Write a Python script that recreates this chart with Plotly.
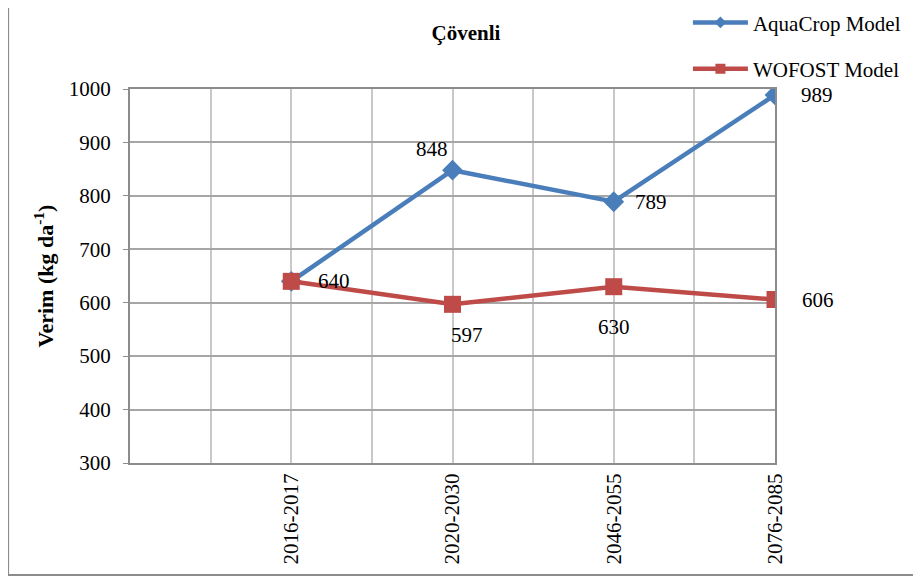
import plotly.graph_objects as go

# veriler
periods = ["2016-2017", "2020-2030", "2046-2055", "2076-2085"]
aquacrop = [640, 848, 789, 989]
wofost = [640, 597, 630, 606]

# etiket kaydirmalari (px) - ilk AquaCrop etiketi gizli
aqua_shift = [None, (-21, 21), (37, 0), (42, 0)]
wofost_shift = [(43, 0), (14, -31), (0, -40), (43, 0)]

xs = list(range(len(periods)))
serif = "Liberation Serif, Times New Roman, serif"
blue, red = "#4a7ebb", "#be4b48"

fig = go.Figure()
fig.add_trace(go.Scatter(x=xs, y=aquacrop, name="AquaCrop Model", mode="lines+markers",
                         line=dict(color=blue, width=4.5),
                         marker=dict(symbol="diamond", size=16, color=blue),
                         showlegend=False))
fig.add_trace(go.Scatter(x=xs, y=wofost, name="WOFOST Model", mode="lines+markers",
                         line=dict(color=red, width=4.5),
                         marker=dict(symbol="square", size=17, color=red),
                         showlegend=False))
# legend icin kucuk isaretli kopyalar
fig.add_trace(go.Scatter(x=[None], y=[None], name="AquaCrop Model", mode="lines+markers",
                         line=dict(color=blue, width=4.5),
                         marker=dict(symbol="diamond", size=9, color=blue), legendgroup="a"))
fig.add_trace(go.Scatter(x=[None], y=[None], name="WOFOST Model", mode="lines+markers",
                         line=dict(color=red, width=4.5),
                         marker=dict(symbol="square", size=10, color=red), legendgroup="w"))

for vals, shifts in [(aquacrop, aqua_shift), (wofost, wofost_shift)]:
    for i, v in enumerate(vals):
        if shifts[i] is None:
            continue
        fig.add_annotation(x=xs[i], y=v, text=str(v), showarrow=False,
                           xshift=shifts[i][0], yshift=shifts[i][1],
                           font=dict(family=serif, size=21, color="black"))

# dis cerceve
fig.add_shape(type="rect", xref="paper", yref="paper", x0=-0.189, x1=1.25, y0=-0.2995, y1=1.235,
              line=dict(color="#8c8c8c", width=2), layer="below")

fig.update_layout(
    width=913, height=571,
    margin=dict(l=122, r=146, t=81, b=116, autoexpand=False),
    paper_bgcolor="white", plot_bgcolor="white",
    title=dict(text="<b>Çövenli</b>", x=(466 - 130) / 645, xref="paper", xanchor="center",
               y=1 - 25 / 571, yanchor="middle", font=dict(family=serif, size=21, color="black")),
    font=dict(family=serif, color="black", size=21),
    legend=dict(x=0.865, y=1.232, xanchor="left", yanchor="top", tracegroupgap=16,
                font=dict(family=serif, size=21, color="black"), bgcolor="rgba(0,0,0,0)",
                itemwidth=55),
    showlegend=True,
)
fig.update_xaxes(range=[-1, 3], tickvals=xs, ticktext=periods, tickangle=-90,
                 showgrid=True, gridcolor="#c8c8c8", gridwidth=1.5,
                 minor=dict(tickvals=[x - 0.5 for x in xs], showgrid=True, gridcolor="#c8c8c8", gridwidth=1.5),
                 showline=True, linecolor="#8c8c8c", linewidth=2, mirror=True,
                 ticks="", zeroline=False, tickfont=dict(family=serif, size=21))
fig.update_yaxes(range=[300, 1000], dtick=100, showgrid=True, gridcolor="#a6a6a6", gridwidth=1.5,
                 showline=True, linecolor="#8c8c8c", linewidth=2, mirror=True,
                 ticks="outside", ticklen=5, tickcolor="#8c8c8c", zeroline=False,
                 ticklabelstandoff=8,
                 tickfont=dict(family=serif, size=21),
                 title=dict(text="<b>Verim (kg da<sup>-1</sup>)</b>", standoff=9,
                            font=dict(family=serif, size=22)))

fig.write_html("out.html")
